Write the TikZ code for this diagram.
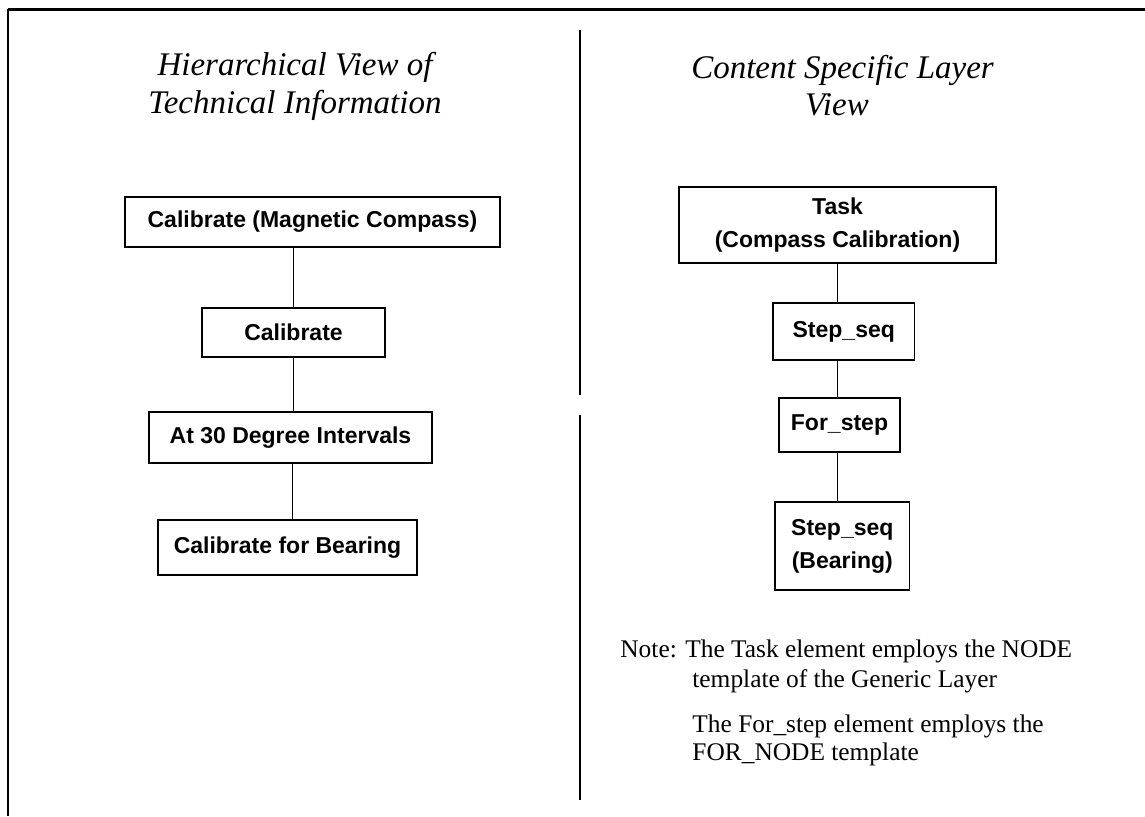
\documentclass[tikz,border=0pt]{standalone}
\usepackage{fontspec}
\setmainfont{Liberation Serif}
\setsansfont{Liberation Sans}
\begin{document}
\begin{tikzpicture}[x=0.5pt,y=-0.5pt,
  box/.style={draw,line width=0.75pt,inner sep=0pt,align=center,
    font=\sffamily\bfseries\fontsize{11.5}{16.5}\selectfont},
  heading/.style={anchor=base,inner sep=0pt,font=\itshape\fontsize{16.5}{19}\selectfont},
  notetext/.style={anchor=base west,inner sep=0pt,font=\fontsize{12.7}{15}\selectfont},
  link/.style={line width=0.75pt}]
\useasboundingbox (0,0) rectangle (1145,816);

% outer frame (top and left edges) and the column divider
\draw[line width=1.5pt] (8,9) -- (1145,9);
\draw[line width=1pt] (8,9) -- (8,816);
\draw[line width=0.75pt] (580,30) -- (580,395);
\draw[line width=0.75pt] (580,415) -- (580,800);

% left column: hierarchical view
\node[heading] (lt1) at (295,75) {Hierarchical View of};
\node[heading] (lt2) at (295,113) {Technical Information};

\node[box,minimum width=187.5pt,minimum height=25pt] (c1) at (312.5,222) {Calibrate (Magnetic Compass)};
\node[box,minimum width=91.5pt,minimum height=24.5pt] (c2) at (293.5,332.5) {Calibrate};
\node[box,minimum width=141.5pt,minimum height=25.5pt] (c3) at (290.5,437.5) {At 30 Degree Intervals};
\node[box,minimum width=129.5pt,minimum height=27.5pt] (c4) at (287.5,547.5) {Calibrate for Bearing};

\draw[link] (c2.north) -- (c2.north |- c1.south);
\draw[link] (c2.south) -- (c2.south |- c3.north);
\draw[link] ([xshift=1pt]c3.south) -- ([xshift=1pt]c3.south |- c4.north);

% right column: content specific layer view
\node[heading] (rt1) at (842.5,78) {Content Specific Layer};
\node[heading] (rt2) at (837,115) {View};

\node[box,minimum width=158.5pt,minimum height=38pt] (task) at (837.5,225) {Task\\(Compass Calibration)};
\node[box,minimum width=70.75pt,minimum height=28.5pt] (s1) at (843.75,331.5) {Step\_seq};
\node[box,minimum width=60.5pt,minimum height=27pt] (fs) at (839.5,425) {For\_step};
\node[box,minimum width=67.3pt,minimum height=44pt] (s2) at (842.3,546) {Step\_seq\\(Bearing)};

\draw[link] (task.south) -- (task.south |- s1.north);
\draw[link] (task.south |- s1.south) -- (task.south |- fs.north);
\draw[link] (task.south |- fs.south) -- (task.south |- s2.north);

% notes
\node[notetext] (n1) at (620,657) {Note: The Task element employs the NODE};
\node[notetext] (n2) at (692,687) {template of the Generic Layer};
\node[notetext] (n3) at (692,732) {The For\_step element employs the};
\node[notetext] (n4) at (692,760) {FOR\_NODE template};
\end{tikzpicture}
\end{document}
